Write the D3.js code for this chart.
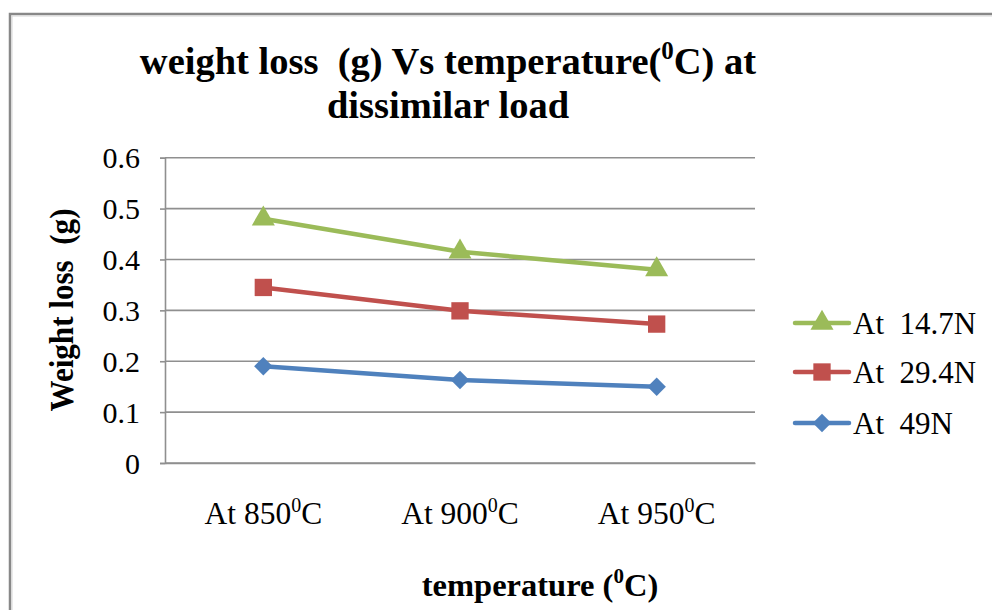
<!DOCTYPE html>
<html>
<head>
<meta charset="utf-8">
<script src="https://cdn.jsdelivr.net/npm/d3@7"></script>
<style>
  html, body { margin: 0; padding: 0; background: #fff; }
  svg text { font-family: "Liberation Serif", "Times New Roman", serif; white-space: pre; }
</style>
</head>
<body>
<svg id="chart" width="992" height="610"></svg>
<script>
// Categories and series
const categories = ["850", "900", "950"];
const seriesNames = ["At  14.7N", "At  29.4N", "At  49N"];
const load147 = [0.48, 0.415, 0.38];
const load294 = [0.345, 0.299, 0.273];
const load49  = [0.19, 0.163, 0.15];
const yTicks = [0, 0.1, 0.2, 0.3, 0.4, 0.5, 0.6];

// Square diamond (a square turned 45 degrees)
const symbolSquareDiamond = {
  draw(context, size) {
    const r = Math.sqrt(size / 2);
    context.moveTo(0, -r);
    context.lineTo(r, 0);
    context.lineTo(0, r);
    context.lineTo(-r, 0);
    context.closePath();
  }
};

const series = [
  { name: seriesNames[0], values: load147, color: "#9BBB59", marker: d3.symbolTriangle, size: 230 },
  { name: seriesNames[1], values: load294, color: "#C0504D", marker: d3.symbolSquare, size: 300 },
  { name: seriesNames[2], values: load49,  color: "#4F81BD", marker: symbolSquareDiamond, size: 170 }
];

const svg = d3.select("#chart");

// Outer chart frame
svg.append("rect")
  .attr("x", 10).attr("y", 14).attr("width", 1000).attr("height", 620)
  .attr("fill", "none").attr("stroke", "#888").attr("stroke-width", 2.5);
svg.append("rect")
  .attr("x", 12).attr("y", 16).attr("width", 1000).attr("height", 620)
  .attr("fill", "none").attr("stroke", "#d6d6d6").attr("stroke-width", 1);

const plot = { left: 165, right: 755, top: 157.7, bottom: 463 };

const x = d3.scaleBand().domain(categories).range([plot.left, plot.right]);
const y = d3.scaleLinear().domain([0, 0.6]).range([plot.bottom, plot.top]);

// Title
const title = svg.append("text")
  .attr("text-anchor", "middle")
  .attr("font-weight", "bold")
  .attr("font-size", 38.5)
  .attr("fill", "#000");
const t1 = title.append("tspan").attr("x", 448).attr("y", 74);
t1.append("tspan").text("weight loss  (g) Vs temperature(");
t1.append("tspan").attr("font-size", 25).attr("dy", -15).text("0");
t1.append("tspan").attr("dy", 15).text("C) at");
title.append("tspan").attr("x", 448).attr("y", 118).text("dissimilar load");

// Gridlines
svg.append("g")
  .selectAll("line")
  .data(yTicks)
  .join("line")
  .attr("x1", plot.left).attr("x2", plot.right)
  .attr("y1", d => y(d)).attr("y2", d => y(d))
  .attr("stroke", "#8f8f8f").attr("stroke-width", 1.6);

// Y axis
const yAxis = svg.append("g")
  .attr("transform", `translate(${plot.left},0)`)
  .call(d3.axisLeft(y).tickValues(yTicks).tickSize(5).tickPadding(20)
    .tickFormat(d => d === 0 ? "0" : d3.format(".1f")(d)));
yAxis.select(".domain").attr("stroke", "#8f8f8f").attr("stroke-width", 1.6);
yAxis.selectAll(".tick line").attr("stroke", "#8f8f8f").attr("stroke-width", 1.6);
yAxis.selectAll(".tick text")
  .attr("font-family", "Liberation Serif, Times New Roman, serif")
  .attr("font-size", 30).attr("fill", "#000").attr("dy", "0.34em");

// X axis
const xAxis = svg.append("g")
  .attr("transform", `translate(0,${plot.bottom})`)
  .call(d3.axisBottom(x).tickSize(0).tickFormat(""));
xAxis.select(".domain").attr("stroke", "#8f8f8f").attr("stroke-width", 1.6);
const xLabels = xAxis.selectAll(".tick").append("text")
  .attr("y", 61)
  .attr("text-anchor", "middle")
  .attr("font-size", 31.5).attr("fill", "#000");
xLabels.append("tspan").text(d => "At " + d);
xLabels.append("tspan").attr("font-size", 20).attr("dy", -12).text("0");
xLabels.append("tspan").attr("dy", 12).text("C");

// Axis titles
const xt = svg.append("text")
  .attr("x", 540).attr("y", 596)
  .attr("text-anchor", "middle").attr("font-weight", "bold").attr("font-size", 32.5);
xt.append("tspan").text("temperature (");
xt.append("tspan").attr("font-size", 21).attr("dy", -13).text("0");
xt.append("tspan").attr("dy", 13).text("C)");

svg.append("text")
  .attr("transform", "translate(73,310) rotate(-90)")
  .attr("text-anchor", "middle").attr("font-weight", "bold").attr("font-size", 33)
  .attr("textLength", 203).attr("lengthAdjust", "spacingAndGlyphs")
  .text("Weight loss  (g)");

// Series lines and markers
const line = d3.line()
  .x((d, i) => x(categories[i]) + x.bandwidth() / 2)
  .y(d => y(d));

series.forEach(s => {
  svg.append("path")
    .datum(s.values)
    .attr("d", line)
    .attr("fill", "none")
    .attr("stroke", s.color)
    .attr("stroke-width", 4.5)
    .attr("stroke-linejoin", "round");
  svg.append("g")
    .selectAll("path")
    .data(s.values)
    .join("path")
    .attr("transform", (d, i) => `translate(${x(categories[i]) + x.bandwidth() / 2},${y(d)})`)
    .attr("d", d3.symbol().type(s.marker).size(s.size))
    .attr("fill", s.color);
});

// Legend
const legend = svg.append("g");
const legendY = [323, 372, 423];
series.forEach((s, i) => {
  const g = legend.append("g").attr("transform", `translate(0,${legendY[i]})`);
  g.append("line")
    .attr("x1", 795).attr("x2", 849)
    .attr("stroke", s.color).attr("stroke-width", 4.5).attr("stroke-linecap", "round");
  g.append("path")
    .attr("transform", "translate(822,0)")
    .attr("d", d3.symbol().type(s.marker).size(s.size))
    .attr("fill", s.color);
  g.append("text")
    .attr("x", 853).attr("y", 0).attr("dy", "0.34em")
    .attr("font-size", 31).attr("fill", "#000")
    .text(s.name);
});
</script>
</body>
</html>
